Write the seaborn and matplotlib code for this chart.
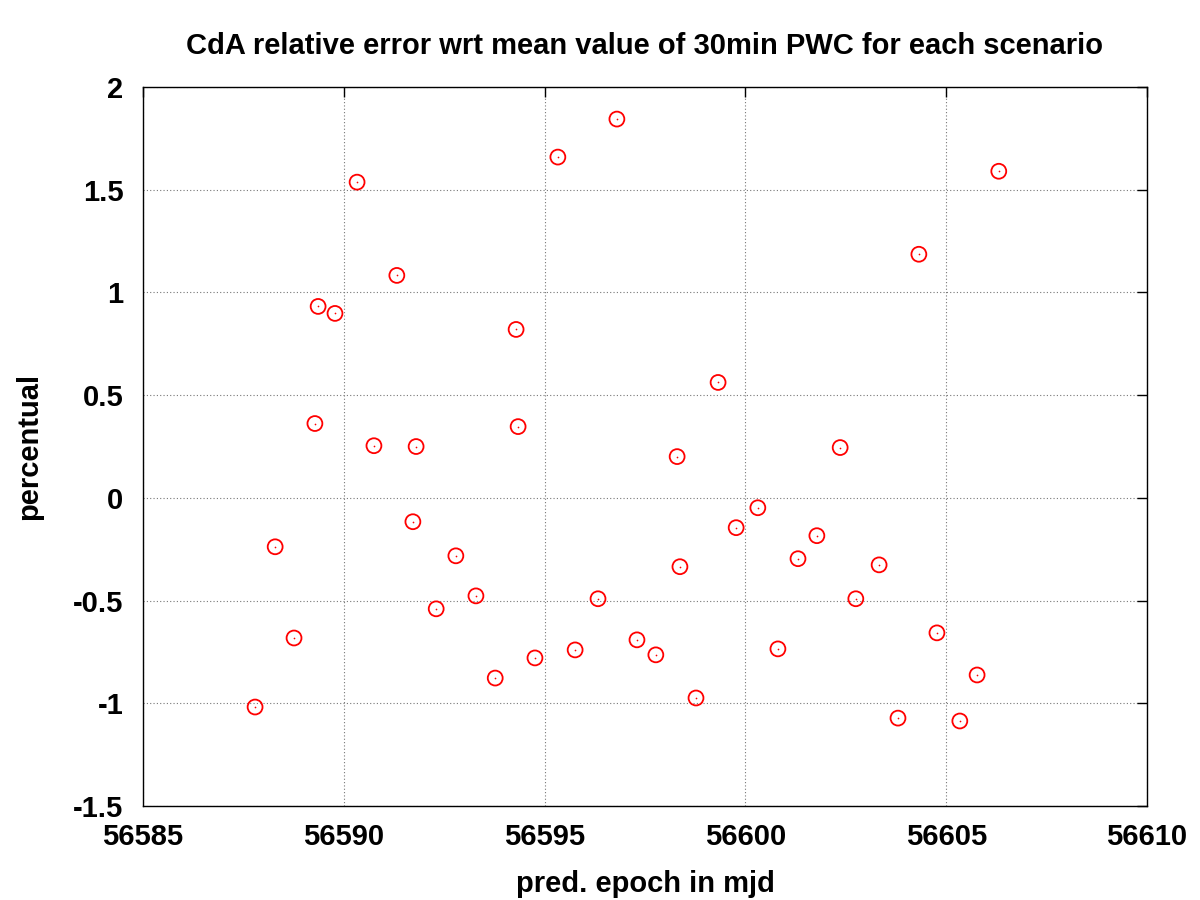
import matplotlib
matplotlib.use("Agg")
import matplotlib.pyplot as plt
import seaborn as sns
import pandas as pd

epoch = [56587.79, 56588.29, 56588.76, 56589.28, 56589.36, 56589.78, 56590.33,
         56590.75, 56591.32, 56591.72, 56591.80, 56592.30, 56592.79, 56593.29,
         56593.77, 56594.29, 56594.34, 56594.76, 56595.33, 56595.76, 56596.33,
         56596.80, 56597.30, 56597.77, 56598.30, 56598.37, 56598.77, 56599.32,
         56599.77, 56600.31, 56600.81, 56601.31, 56601.78, 56602.36, 56602.75,
         56603.33, 56603.80, 56604.32, 56604.77, 56605.34, 56605.77, 56606.31]
percentual = [-1.018, -0.238, -0.682, 0.362, 0.932, 0.898, 1.537,
              0.254, 1.083, -0.116, 0.250, -0.540, -0.282, -0.477,
              -0.877, 0.820, 0.347, -0.779, 1.659, -0.740, -0.491,
              1.844, -0.691, -0.764, 0.201, -0.335, -0.974, 0.562,
              -0.145, -0.048, -0.735, -0.296, -0.184, 0.245, -0.491,
              -0.326, -1.072, 1.186, -0.657, -1.086, -0.862, 1.590]

x_ticks = [56585, 56590, 56595, 56600, 56605, 56610]
y_ticks = [-1.5, -1, -0.5, 0, 0.5, 1, 1.5, 2]
y_tick_labels = ["-1.5", "-1", "-0.5", "0", "0.5", "1", "1.5", "2"]

df = pd.DataFrame({"epoch": epoch, "percentual": percentual})

sns.set_style("white")
plt.rcParams['font.family'] = ['Liberation Sans', 'DejaVu Sans']
plt.rcParams['font.weight'] = 'bold'
plt.rcParams['text.color'] = 'black'
plt.rcParams['axes.labelcolor'] = 'black'

fig = plt.figure(figsize=(12, 9), dpi=100)
ax = fig.add_axes([0.1192, 0.1044, 0.8366, 0.7989])

sns.scatterplot(data=df, x="epoch", y="percentual", ax=ax, marker="o",
                s=115, facecolors="none", edgecolor="#ff0000", linewidth=1.3,
                zorder=3)
sns.scatterplot(data=df, x="epoch", y="percentual", ax=ax, marker="o",
                s=1.5, color="#ff0000", linewidth=0, zorder=4)

ax.set_xlim(56585, 56610)
ax.set_ylim(-1.5, 2)
ax.set_xticks(x_ticks)
ax.set_xticklabels([str(t) for t in x_ticks])
ax.set_yticks(y_ticks)
ax.set_yticklabels(y_tick_labels)

ax.grid(True, color="#777777", linestyle=(0, (1, 2)), linewidth=0.8)
ax.set_axisbelow(True)
for sp in ax.spines.values():
    sp.set_visible(True)
    sp.set_color("black")
    sp.set_linewidth(1.0)

ax.tick_params(axis="both", direction="in", length=7, width=1, top=True,
               right=True, labelsize=21, colors="black")
ax.tick_params(axis="x", pad=12)
ax.tick_params(axis="y", pad=14)
for lab in ax.get_xticklabels() + ax.get_yticklabels():
    lab.set_fontweight("bold")

ax.set_xlabel("pred. epoch in mjd", fontsize=21, fontweight="bold", labelpad=14)
ax.set_ylabel("percentual", fontsize=21, fontweight="bold", labelpad=22)
ax.set_title("CdA relative error wrt mean value of 30min PWC for each scenario",
             fontsize=21, fontweight="bold", pad=24, color="black")

fig.savefig("out.png", dpi=100, facecolor="white")
